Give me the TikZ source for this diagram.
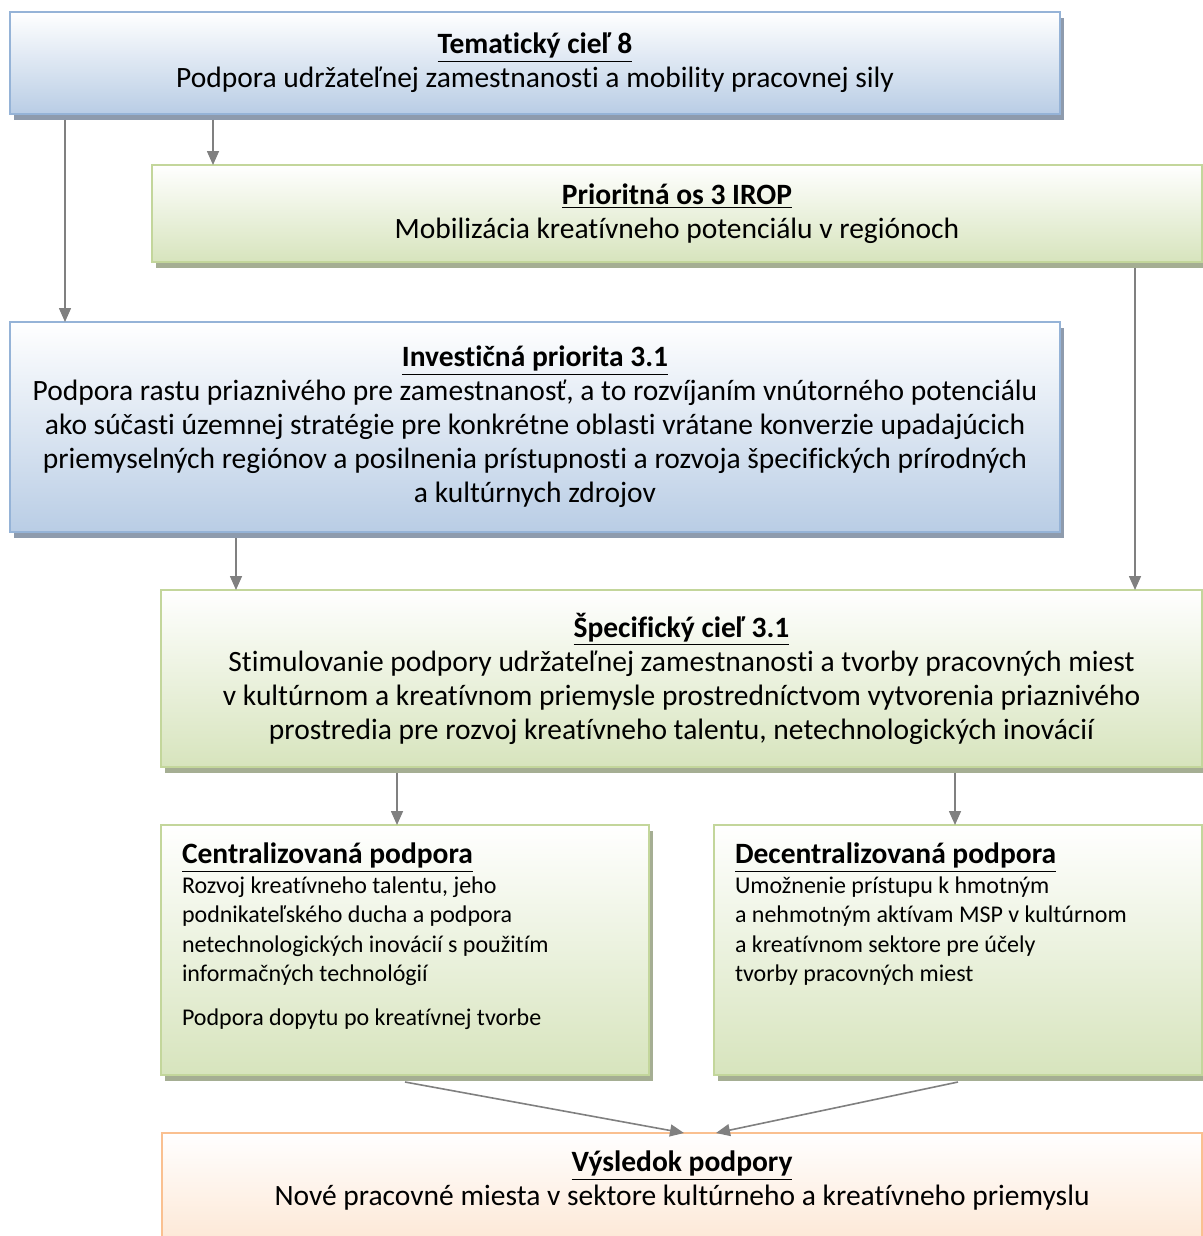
\documentclass[tikz,border=0pt]{standalone}
\usepackage{fontspec}
\setmainfont{Carlito}[Ligatures=CommonOff]
\usetikzlibrary{arrows.meta,shadows}

\definecolor{blueline}{RGB}{149,179,215}
\definecolor{bluefill}{RGB}{185,205,229}
\definecolor{blueshadow}{RGB}{142,155,173}
\definecolor{greenline}{RGB}{195,214,155}
\definecolor{greenfill}{RGB}{215,228,189}
\definecolor{greenshadow}{RGB}{165,174,147}
\definecolor{orangeline}{RGB}{250,192,144}
\definecolor{orangefill}{RGB}{251,213,181}
\definecolor{orangeshadow}{RGB}{190,160,136}
\definecolor{arrowgray}{RGB}{128,128,128}

\newcommand{\boxtitle}[1]{\underline{\textbf{#1}}}

\tikzset{
  >={Triangle[width=6pt,length=7pt]},
  box/.style={rectangle, line width=1pt, inner sep=9pt, outer sep=0pt, align=center,
    font=\fontsize{14.75}{17}\selectfont},
  bluebox/.style={box, draw=blueline, top color=white, bottom color=bluefill,
    drop shadow={shadow xshift=2pt, shadow yshift=-3pt, opacity=1, fill=blueshadow}},
  greenbox/.style={box, draw=greenline, top color=white, bottom color=greenfill,
    drop shadow={shadow xshift=2pt, shadow yshift=-3pt, opacity=1, fill=greenshadow}},
  orangebox/.style={box, draw=orangeline, top color=white, bottom color=orangefill,
    drop shadow={shadow xshift=2pt, shadow yshift=-3pt, opacity=1, fill=orangeshadow}},
  link/.style={->, draw=arrowgray, fill=arrowgray, line width=0.8pt}
}

\begin{document}
\begin{tikzpicture}[x=0.5pt,y=-0.5pt]
  \useasboundingbox (0,0) rectangle (1203,1236);

  \node[bluebox, minimum width=525pt, minimum height=51pt] (tc8) at (535,63)
    {\boxtitle{Tematický cieľ 8}\\ Podpora udržateľnej zamestnanosti a mobility pracovnej sily}; % tematicky ciel
  \node[greenbox, minimum width=525pt, minimum height=48.5pt] (po3) at (677,213.5)
    {\boxtitle{Prioritná os 3 IROP}\\ Mobilizácia kreatívneho potenciálu v regiónoch}; % prioritna os
  \node[bluebox, minimum width=525pt, minimum height=105pt] (ip31) at (535,427)
    {\boxtitle{Investičná priorita 3.1}\\
     Podpora rastu priaznivého pre zamestnanosť, a to rozvíjaním vnútorného potenciálu\\
     ako súčasti územnej stratégie pre konkrétne oblasti vrátane konverzie upadajúcich\\
     priemyselných regiónov a posilnenia prístupnosti a rozvoja špecifických prírodných\\
     a kultúrnych zdrojov}; % investicna priorita
  \node[greenbox, minimum width=520.5pt, minimum height=88.5pt] (sc31) at (681.5,678.5)
    {\boxtitle{Špecifický cieľ 3.1}\\
     Stimulovanie podpory udržateľnej zamestnanosti a tvorby pracovných miest\\
     v kultúrnom a kreatívnom priemysle prostredníctvom vytvorenia priaznivého\\
     prostredia pre rozvoj kreatívneho talentu, netechnologických inovácií}; % specificky ciel
  \node[greenbox, inner xsep=10.5pt, minimum width=244pt, minimum height=125pt] (cp) at (405,950)
    {\parbox[t][107pt][t]{223pt}{\raggedright\boxtitle{Centralizovaná podpora}\par
     \fontsize{12}{14.75}\selectfont
     Rozvoj kreatívneho talentu, jeho\\
     podnikateľského ducha a podpora\\
     netechnologických inovácií s použitím\\
     informačných technológií\par\vspace{7pt}
     Podpora dopytu po kreatívnej tvorbe}}; % centralizovana
  \node[greenbox, inner xsep=10.5pt, minimum width=244pt, minimum height=125pt] (dp) at (958,950)
    {\parbox[t][107pt][t]{223pt}{\raggedright\boxtitle{Decentralizovaná podpora}\par
     \fontsize{12}{14.75}\selectfont
     Umožnenie prístupu k hmotným\\
     a nehmotným aktívam MSP v kultúrnom\\
     a kreatívnom sektore pre účely\\
     tvorby pracovných miest}}; % decentralizovana
  \node[orangebox, minimum width=520pt, minimum height=98pt] (vp) at (682,1231)
    {\parbox[t][80pt][t]{500pt}{\centering\boxtitle{Výsledok podpory}\\
     Nové pracovné miesta v sektore kultúrneho a kreatívneho priemyslu}}; % vysledok

  \draw[link] ([xshift=101.5pt,yshift=-3pt]tc8.south west) -- ([xshift=30.5pt]po3.north west);
  \draw[link] ([xshift=27.5pt,yshift=-3pt]tc8.south west) -- ([xshift=27.5pt]ip31.north west);
  \draw[link] ([xshift=-33.5pt,yshift=-3pt]po3.south east) -- ([xshift=-33.5pt]sc31.north east);
  \draw[link] ([xshift=113pt,yshift=-3pt]ip31.south west) -- ([xshift=37.5pt]sc31.north west);
  \draw[link] ([xshift=118pt,yshift=-3pt]sc31.south west) -- ([xshift=118pt]cp.north west);
  \draw[link] ([xshift=-123.5pt,yshift=-3pt]sc31.south east) -- ([xshift=120.5pt]dp.north west);
  \draw[link] ([yshift=-3.5pt]cp.south) -- ([xshift=1pt]vp.north);
  \draw[link] ([yshift=-3.5pt]dp.south) -- ([xshift=17pt]vp.north);
\end{tikzpicture}
\end{document}
